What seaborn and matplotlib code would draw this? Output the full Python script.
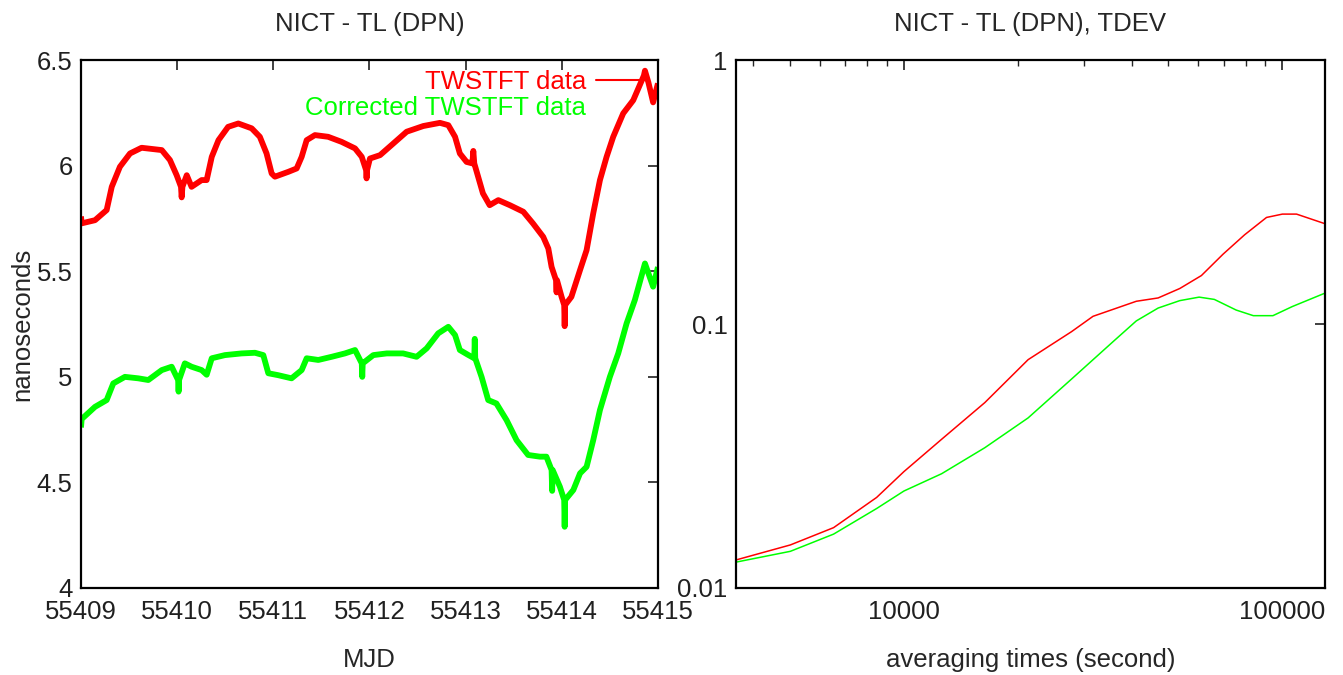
import seaborn as sns
import matplotlib.pyplot as plt
import pandas as pd
from matplotlib.lines import Line2D
from matplotlib.ticker import LogLocator, NullFormatter, FixedLocator

# 左图: TWSTFT 数据 (MJD, ns)
raw_mjd = [55409.0, 55409.007, 55409.146, 55409.267, 55409.32, 55409.405, 55409.51, 55409.63,
           55409.84, 55409.925, 55409.995, 55410.04, 55410.047, 55410.055, 55410.10, 55410.15,
           55410.255, 55410.307, 55410.36, 55410.43, 55410.53, 55410.636, 55410.775, 55410.86,
           55410.93, 55410.983, 55411.017, 55411.156, 55411.243, 55411.295, 55411.347, 55411.433,
           55411.57, 55411.71, 55411.85, 55411.92, 55411.965, 55411.97, 55411.975, 55412.005,
           55412.11, 55412.25, 55412.387, 55412.56, 55412.733, 55412.82, 55412.89, 55412.94,
           55413.01, 55413.07, 55413.08, 55413.09, 55413.13, 55413.18, 55413.25, 55413.34,
           55413.46, 55413.60, 55413.70, 55413.807, 55413.86, 55413.894, 55413.94, 55413.946,
           55413.95, 55413.998, 55414.025, 55414.03, 55414.035, 55414.10, 55414.19, 55414.258,
           55414.327, 55414.397, 55414.466, 55414.535, 55414.639, 55414.743, 55414.854, 55414.865,
           55414.90, 55414.95, 55415.0]
raw_ns = [5.76, 5.727, 5.742, 5.79, 5.90, 5.995, 6.058, 6.085,
          6.074, 6.027, 5.955, 5.90, 5.85, 5.90, 5.955, 5.90,
          5.932, 5.932, 6.042, 6.121, 6.184, 6.20, 6.177, 6.137,
          6.058, 5.963, 5.948, 5.971, 5.987, 6.042, 6.121, 6.145,
          6.137, 6.113, 6.082, 6.042, 5.979, 5.94, 5.979, 6.034,
          6.05, 6.106, 6.161, 6.188, 6.203, 6.192, 6.137, 6.058,
          6.018, 6.011, 6.07, 6.011, 5.948, 5.869, 5.813, 5.837,
          5.813, 5.782, 5.727, 5.663, 5.608, 5.521, 5.458, 5.40,
          5.458, 5.379, 5.34, 5.24, 5.34, 5.379, 5.506, 5.60,
          5.774, 5.932, 6.042, 6.137, 6.248, 6.31, 6.427, 6.45,
          6.396, 6.30, 6.39]

cor_mjd = [55409.0, 55409.007, 55409.146, 55409.267, 55409.336, 55409.457, 55409.596, 55409.70,
           55409.84, 55409.943, 55410.01, 55410.015, 55410.02, 55410.08, 55410.15, 55410.255,
           55410.307, 55410.36, 55410.497, 55410.67, 55410.81, 55410.896, 55410.948, 55411.05,
           55411.19, 55411.295, 55411.347, 55411.468, 55411.607, 55411.745, 55411.85, 55411.92,
           55411.925, 55411.93, 55412.04, 55412.18, 55412.35, 55412.49, 55412.595, 55412.715,
           55412.82, 55412.89, 55412.94, 55413.03, 55413.09, 55413.095, 55413.10, 55413.166,
           55413.235, 55413.32, 55413.426, 55413.53, 55413.65, 55413.773, 55413.84, 55413.894,
           55413.90, 55413.905, 55413.98, 55414.025, 55414.03, 55414.035, 55414.12, 55414.19,
           55414.258, 55414.327, 55414.397, 55414.50, 55414.587, 55414.674, 55414.76, 55414.865,
           55414.95, 55415.0]
cor_ns = [4.76, 4.80, 4.858, 4.89, 4.969, 5.0, 4.993, 4.985,
          5.032, 5.048, 4.985, 4.93, 4.985, 5.064, 5.048, 5.032,
          5.01, 5.088, 5.103, 5.111, 5.114, 5.103, 5.017, 5.008,
          4.993, 5.032, 5.088, 5.08, 5.095, 5.111, 5.127, 5.064,
          5.00, 5.064, 5.103, 5.111, 5.111, 5.095, 5.135, 5.206,
          5.237, 5.198, 5.127, 5.103, 5.088, 5.18, 5.088, 5.0,
          4.89, 4.874, 4.795, 4.70, 4.63, 4.622, 4.622, 4.559,
          4.46, 4.559, 4.48, 4.417, 4.29, 4.417, 4.464, 4.543,
          4.574, 4.70, 4.843, 5.0, 5.111, 5.253, 5.364, 5.537,
          5.427, 5.52]

# 右图: TDEV (秒, ns)
raw_tau = [3600, 5012, 6520, 8470, 10000, 12580, 16360, 21290, 27730, 31600,
           41120, 46960, 53580, 61100, 69700, 79500, 90800, 100000, 109000, 129600]
raw_tdev = [0.01277, 0.01456, 0.01693, 0.02203, 0.0276, 0.0366, 0.0504, 0.0733, 0.0936, 0.107,
            0.122, 0.1256, 0.1364, 0.1527, 0.184, 0.218, 0.2535, 0.261, 0.261, 0.240]
cor_tau = [3600, 5012, 6520, 8470, 10000, 12580, 16360, 21290, 27730, 36060,
           41120, 46960, 53580, 60260, 66100, 75500, 83800, 94400, 106200, 129600]
cor_tdev = [0.01253, 0.01377, 0.016, 0.02, 0.0233, 0.0271, 0.034, 0.0441, 0.0619, 0.0869,
            0.1028, 0.115, 0.1227, 0.1265, 0.124, 0.113, 0.1076, 0.1076, 0.1165, 0.131]

RED = '#ff0000'
GREEN = '#00ff00'
FS = 18.5

sns.set_style('white')
plt.rcParams['font.family'] = ['Liberation Sans', 'DejaVu Sans']
plt.rcParams['font.size'] = FS

fig = plt.figure(figsize=(13.43, 6.75), dpi=100)
ax1 = fig.add_axes([0.0603, 0.1289, 0.4296, 0.782])
ax2 = fig.add_axes([0.548, 0.1289, 0.4386, 0.782])

left_raw = pd.DataFrame({'MJD': raw_mjd, 'ns': raw_ns})
left_cor = pd.DataFrame({'MJD': cor_mjd, 'ns': cor_ns})
sns.lineplot(data=left_raw, x='MJD', y='ns', ax=ax1, color=RED, lw=4.2, sort=False,
             estimator=None, solid_joinstyle='round', solid_capstyle='butt')
sns.lineplot(data=left_cor, x='MJD', y='ns', ax=ax1, color=GREEN, lw=4.2, sort=False,
             estimator=None, solid_joinstyle='round', solid_capstyle='butt')

ax1.set_xlim(55409, 55415)
ax1.set_ylim(4, 6.5)
ax1.set_xticks(range(55409, 55416))
ax1.set_xticklabels([str(v) for v in range(55409, 55416)])
ax1.set_yticks([4, 4.5, 5, 5.5, 6, 6.5])
ax1.set_yticklabels(['4', '4.5', '5', '5.5', '6', '6.5'])
ax1.set_title('NICT - TL (DPN)', fontsize=FS, pad=21)
ax1.set_xlabel('MJD', fontsize=FS, labelpad=17)
ax1.set_ylabel('nanoseconds', fontsize=FS, labelpad=2)

handles = [Line2D([], [], color=RED, lw=1.5), Line2D([], [], color=GREEN, lw=0)]
leg = ax1.legend(handles, ['TWSTFT data', 'Corrected TWSTFT data'], loc='upper right',
                 frameon=False, markerfirst=False, handlelength=2.0, handletextpad=0.4,
                 labelspacing=0.06, borderpad=0.3, borderaxespad=0.1, fontsize=FS)
for t, c in zip(leg.get_texts(), [RED, GREEN]):
    t.set_color(c)

right_raw = pd.DataFrame({'tau': raw_tau, 'tdev': raw_tdev})
right_cor = pd.DataFrame({'tau': cor_tau, 'tdev': cor_tdev})
sns.lineplot(data=right_raw, x='tau', y='tdev', ax=ax2, color=RED, lw=1.1, sort=False, estimator=None)
sns.lineplot(data=right_cor, x='tau', y='tdev', ax=ax2, color=GREEN, lw=1.1, sort=False, estimator=None)
ax2.set_xscale('log')
ax2.set_yscale('log')
ax2.set_xlim(3600, 129600)
ax2.set_ylim(0.01, 1)
ax2.xaxis.set_major_locator(FixedLocator([10000, 100000]))
ax2.set_xticklabels(['10000', '100000'])
ax2.xaxis.set_minor_locator(LogLocator(base=10, subs=range(2, 10)))
ax2.xaxis.set_minor_formatter(NullFormatter())
ax2.yaxis.set_major_locator(FixedLocator([0.01, 0.1, 1]))
ax2.set_yticklabels(['0.01', '0.1', '1'])
ax2.yaxis.set_minor_locator(FixedLocator([]))
ax2.set_title('NICT - TL (DPN), TDEV', fontsize=FS, pad=21)
ax2.set_xlabel('averaging times (second)', fontsize=FS, labelpad=17)
ax2.set_ylabel('')

for ax in (ax1, ax2):
    for s in ax.spines.values():
        s.set_visible(True)
        s.set_color('black')
        s.set_linewidth(1.6)
    ax.tick_params(which='major', direction='in', length=7, width=1.2,
                   top=True, right=True, labelsize=FS, colors='#202020')
    ax.tick_params(axis='x', which='major', pad=9)
    ax.tick_params(axis='y', which='major', pad=6)
    ax.tick_params(which='minor', direction='in', length=4, width=1.0, top=True, right=True)
    ax.set_facecolor('white')

fig.savefig('out.png', dpi=100, facecolor='white')
